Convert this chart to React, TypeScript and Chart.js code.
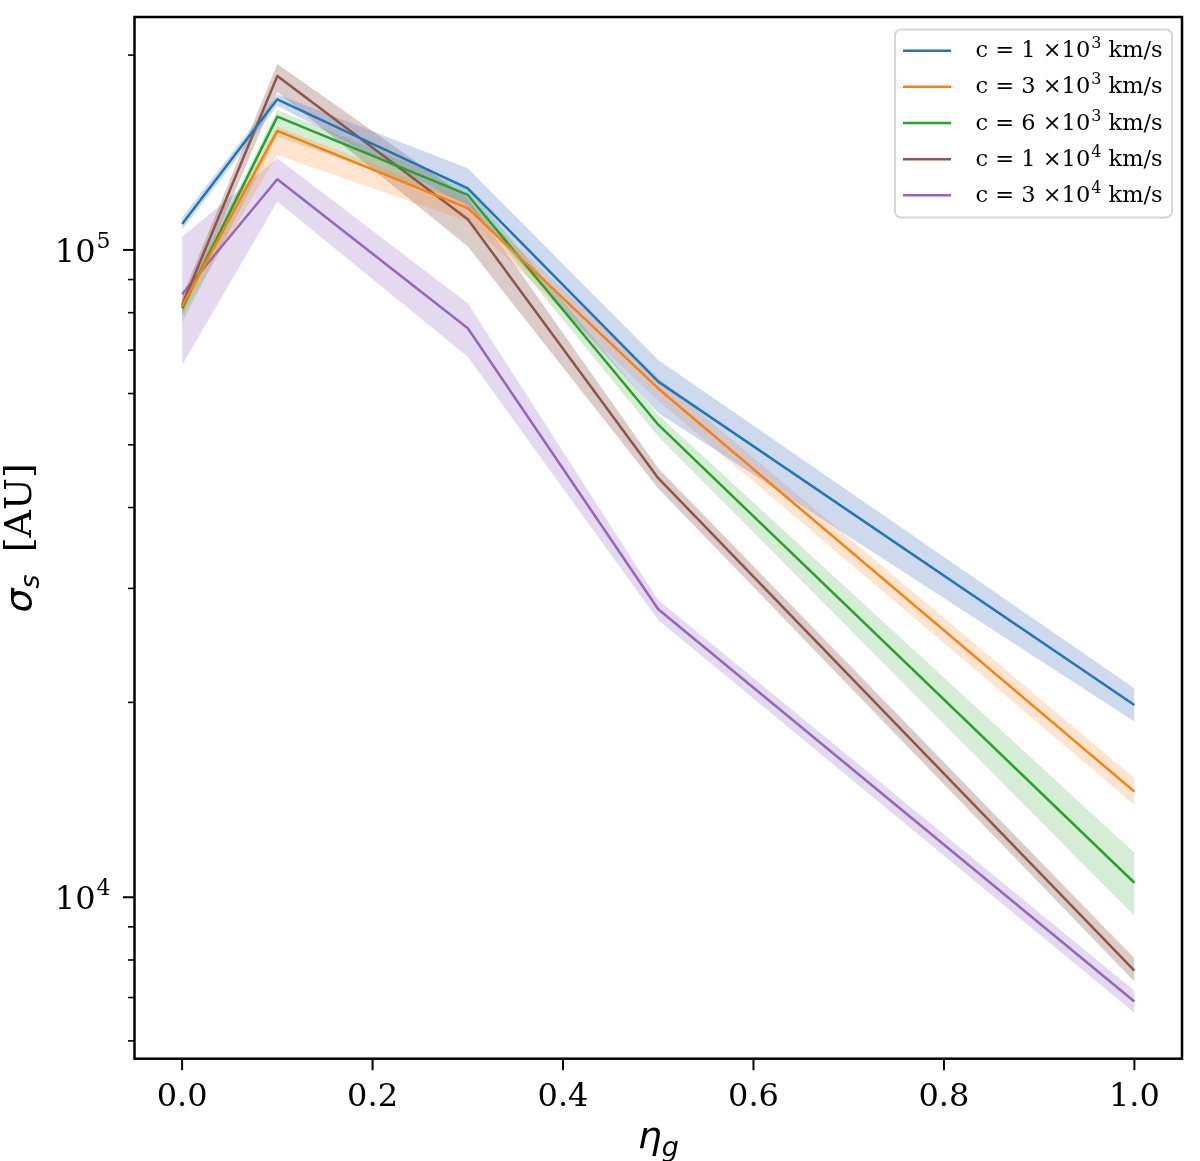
import React, { useEffect, useRef } from "react";
import { Chart, registerables } from "chart.js";

Chart.register(...registerables);

// eta_g sample points
const etaG = [0, 0.1, 0.3, 0.5, 1.0];

// sigma_s [AU] for each sound speed, with the shaded band limits
const sigma1e3 = [109700, 170900, 124500, 62600, 19820];
const upper1e3 = [112300, 174000, 133700, 67600, 21030];
const lower1e3 = [107400, 167000, 117000, 56000, 18680];

const sigma3e3 = [81900, 152700, 116000, 61100, 14560];
const upper3e3 = [84500, 155000, 119000, 63500, 15270];
const lower3e3 = [79000, 140200, 110600, 58500, 13890];

const sigma6e3 = [81300, 160700, 121600, 53700, 10530];
const upper6e3 = [83200, 164500, 125000, 55600, 11720];
const lower6e3 = [77100, 149600, 118000, 51500, 9360];

const sigma1e4 = [82200, 185700, 111500, 44400, 7700];
const upper1e4 = [84700, 193800, 120300, 46000, 8050];
const lower1e4 = [79400, 175400, 101200, 42800, 7410];

const sigma3e4 = [85400, 128600, 75700, 27860, 6900];
const upper3e4 = [104800, 138600, 82700, 28790, 7170];
const lower3e4 = [66400, 118800, 68400, 26820, 6630];

const legendMantissa = ["1", "3", "6", "1", "3"];
const legendExponent = ["3", "3", "3", "4", "4"];

const xTicks = [0, 0.2, 0.4, 0.6, 0.8, 1.0];
const yTicks = [
  6000, 7000, 8000, 9000, 10000, 20000, 30000, 40000, 50000, 60000, 70000,
  80000, 90000, 100000, 200000,
];
const yMajor = [10000, 100000];
const yMajorExp = ["4", "5"];

const lineColors = ["#1f77b4", "#ff7f0e", "#2ca02c", "#8c564b", "#9467bd"];
const bandColors = [
  "rgba(95,130,200,0.3)",
  "rgba(255,127,14,0.2)",
  "rgba(44,160,44,0.2)",
  "rgba(140,86,75,0.3)",
  "rgba(148,103,189,0.25)",
];

const series = [
  { mid: sigma1e3, up: upper1e3, lo: lower1e3 },
  { mid: sigma3e3, up: upper3e3, lo: lower3e3 },
  { mid: sigma6e3, up: upper6e3, lo: lower6e3 },
  { mid: sigma1e4, up: upper1e4, lo: lower1e4 },
  { mid: sigma3e4, up: upper3e4, lo: lower3e4 },
];

const toPoints = (ys: number[]) => etaG.map((x, i) => ({ x, y: ys[i] }));

// frame, tick marks, power-of-ten labels, axis titles and the boxed legend
const decorPlugin = {
  id: "decor",
  afterDraw(chart: any) {
    const { ctx, chartArea } = chart;
    const { left, right, top, bottom } = chartArea;
    const xs = chart.scales.x;
    const ys = chart.scales.y;
    ctx.save();

    // tick marks
    ctx.strokeStyle = "#000";
    yTicks.forEach((v) => {
      const py = ys.getPixelForValue(v);
      const major = yMajor.includes(v);
      ctx.lineWidth = major ? 2 : 1.6;
      ctx.beginPath();
      ctx.moveTo(left - (major ? 11.5 : 6.5), py);
      ctx.lineTo(left, py);
      ctx.stroke();
    });
    xTicks.forEach((v) => {
      const px = xs.getPixelForValue(v);
      ctx.lineWidth = 2;
      ctx.beginPath();
      ctx.moveTo(px, bottom);
      ctx.lineTo(px, bottom + 11.5);
      ctx.stroke();
    });

    // frame
    ctx.lineWidth = 2.5;
    ctx.strokeRect(left, top, right - left, bottom - top);

    // y tick labels 10^4, 10^5
    ctx.fillStyle = "#000";
    ctx.textBaseline = "alphabetic";
    ctx.textAlign = "left";
    yMajor.forEach((v, k) => {
      const py = ys.getPixelForValue(v);
      ctx.font = "22px 'DejaVu Serif'";
      const wE = ctx.measureText(yMajorExp[k]).width;
      ctx.font = "32px 'DejaVu Serif'";
      const wT = ctx.measureText("10").width;
      const x0 = 110.5 - wE - wT - 1;
      ctx.fillText("10", x0, py + 12);
      ctx.font = "22px 'DejaVu Serif'";
      ctx.fillText(yMajorExp[k], x0 + wT + 1, py - 2);
    });

    // x title: eta_g
    const bigSans = "italic 38px 'DejaVu Sans'";
    const subSans = "italic 27px 'DejaVu Sans'";
    ctx.font = bigSans;
    const wEta = ctx.measureText("\u03b7").width;
    ctx.font = subSans;
    const wG = ctx.measureText("g").width;
    const cx = (left + right) / 2;
    const sx = cx - (wEta + wG) / 2;
    ctx.font = bigSans;
    ctx.fillText("\u03b7", sx, 1148);
    ctx.font = subSans;
    ctx.fillText("g", sx + wEta, 1156);

    // y title: sigma_s [AU]
    ctx.save();
    ctx.translate(31, (top + bottom) / 2);
    ctx.rotate(-Math.PI / 2);
    ctx.font = bigSans;
    const wSig = ctx.measureText("\u03c3").width;
    ctx.font = subSans;
    const wS = ctx.measureText("s").width;
    ctx.font = "38px 'DejaVu Serif'";
    const wAU = ctx.measureText("[AU]").width;
    const gap = 22;
    const total = wSig + wS + gap + wAU;
    let tx = -total / 2;
    ctx.font = bigSans;
    ctx.fillText("\u03c3", tx, 0);
    tx += wSig;
    ctx.font = subSans;
    ctx.fillText("s", tx, 8);
    tx += wS + gap;
    ctx.font = "38px 'DejaVu Serif'";
    ctx.fillText("[AU]", tx, 0);
    ctx.restore();

    // legend box
    const bx = 895, by = 29.5, bw = 277, bh = 188, r = 6;
    ctx.beginPath();
    ctx.moveTo(bx + r, by);
    ctx.arcTo(bx + bw, by, bx + bw, by + bh, r);
    ctx.arcTo(bx + bw, by + bh, bx, by + bh, r);
    ctx.arcTo(bx, by + bh, bx, by, r);
    ctx.arcTo(bx, by, bx + bw, by, r);
    ctx.closePath();
    ctx.fillStyle = "rgba(255,255,255,0.8)";
    ctx.fill();
    ctx.strokeStyle = "#d6d6d6";
    ctx.lineWidth = 2;
    ctx.stroke();

    const normal = "22.5px 'DejaVu Serif'";
    const sup = "16px 'DejaVu Serif'";
    legendMantissa.forEach((m, i) => {
      const ry = 50.7 + i * 36.15;
      ctx.strokeStyle = lineColors[i];
      ctx.lineWidth = 2.5;
      ctx.beginPath();
      ctx.moveTo(903, ry);
      ctx.lineTo(951, ry);
      ctx.stroke();
      ctx.fillStyle = "#000";
      let lx = 975.5;
      const base = ry + 6.5;
      const first = "c = " + m + " \u00d710";
      ctx.font = normal;
      ctx.fillText(first, lx, base);
      lx += ctx.measureText(first).width;
      ctx.font = sup;
      ctx.fillText(legendExponent[i], lx + 1, base - 9);
      lx += ctx.measureText(legendExponent[i]).width + 1;
      ctx.font = normal;
      ctx.fillText(" km/s", lx, base);
    });

    ctx.restore();
  },
};

const App: React.FC = () => {
  const canvasRef = useRef<HTMLCanvasElement>(null);
  const chartRef = useRef<Chart | null>(null);

  useEffect(() => {
    if (!canvasRef.current) return;
    const ctx = canvasRef.current.getContext("2d");
    if (!ctx) return;
    if (chartRef.current) chartRef.current.destroy();

    const datasets: any[] = [];
    series.forEach((s, i) => {
      datasets.push({
        data: toPoints(s.up),
        borderWidth: 0,
        pointRadius: 0,
        fill: false,
        order: 1,
      });
      datasets.push({
        data: toPoints(s.lo),
        borderWidth: 0,
        pointRadius: 0,
        fill: "-1",
        backgroundColor: bandColors[i],
        order: 1,
      });
      datasets.push({
        data: toPoints(s.mid),
        borderColor: lineColors[i],
        borderWidth: 2.5,
        borderJoinStyle: "round",
        pointRadius: 0,
        fill: false,
        order: 0,
      });
    });

    chartRef.current = new Chart(ctx, {
      type: "line",
      data: { datasets },
      options: {
        animation: false,
        responsive: false,
        devicePixelRatio: 1,
        layout: { padding: { top: 17, right: 18, left: 0, bottom: 0 } },
        plugins: {
          legend: { display: false },
          tooltip: { enabled: false },
        },
        scales: {
          x: {
            type: "linear",
            min: -0.05,
            max: 1.05,
            afterBuildTicks: (scale: any) => {
              scale.ticks = xTicks.map((v) => ({ value: v }));
            },
            afterFit: (scale: any) => {
              scale.height = 102.3;
              scale.paddingLeft = 0;
              scale.paddingRight = 0;
            },
            grid: { display: false, drawTicks: false },
            border: { display: false },
            ticks: {
              autoSkip: false,
              maxRotation: 0,
              padding: 20,
              color: "#000",
              font: { family: "DejaVu Serif", size: 32 },
              callback: (v: any) => Number(v).toFixed(1),
            },
          },
          y: {
            type: "logarithmic",
            min: 5631,
            max: 229000,
            afterBuildTicks: (scale: any) => {
              scale.ticks = yTicks.map((v) => ({
                value: v,
                major: yMajor.includes(v),
              }));
            },
            afterFit: (scale: any) => {
              scale.width = 134.5;
              scale.paddingTop = 0;
              scale.paddingBottom = 0;
            },
            grid: { display: false, drawTicks: false },
            border: { display: false },
            ticks: {
              autoSkip: false,
              display: false,
            },
          },
        },
      },
      plugins: [decorPlugin],
    } as any);

    return () => {
      if (chartRef.current) {
        chartRef.current.destroy();
        chartRef.current = null;
      }
    };
  }, []);

  return (
    <div
      style={{
        position: "absolute",
        left: 0,
        top: 0,
        width: 1200,
        height: 1161,
        background: "#fff",
      }}
    >
      <canvas
        ref={canvasRef}
        width={1200}
        height={1161}
        style={{ width: 1200, height: 1161 }}
      />
    </div>
  );
};

export default App;
